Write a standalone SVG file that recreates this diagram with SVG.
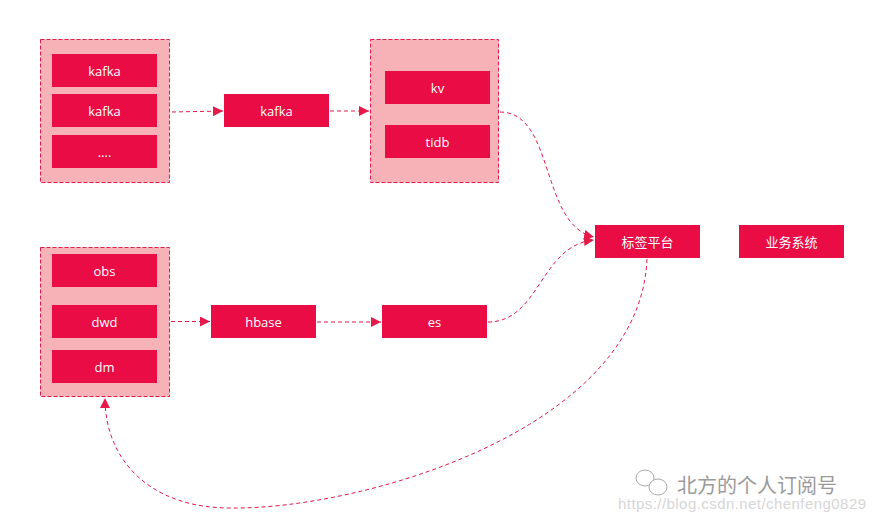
<svg xmlns="http://www.w3.org/2000/svg" width="874" height="523" viewBox="0 0 874 523">
<style>
.grp{fill:#F6B2B7;stroke:#E5194A;stroke-width:1;stroke-dasharray:4 2}
.box{fill:#E90C45}
.lbl{fill:#ffffff;font-family:"Open Sans","Liberation Sans","Noto Sans CJK SC",sans-serif;font-size:13px;text-anchor:middle;dominant-baseline:central}
.edge{fill:none;stroke:#E5194A;stroke-width:1;stroke-dasharray:4 3}
.wm{font-family:"Liberation Sans","Noto Sans CJK SC",sans-serif}
</style>
<defs>
<marker id="arr" viewBox="0 0 10 10" refX="10" refY="5" markerWidth="10" markerHeight="10" markerUnits="userSpaceOnUse" orient="auto">
<path d="M0,0 L10,5 L0,10 z" fill="#E5194A"/>
</marker>
</defs>
<rect width="874" height="523" fill="#ffffff"/>

<g id="group1">
<rect class="grp" x="40.5" y="39.5" width="129" height="143"/>
</g>
<g id="kafka1"><rect class="box" x="52" y="54" width="105" height="33"/><text class="lbl" x="104.5" y="71">kafka</text></g>
<g id="kafka2"><rect class="box" x="52" y="94" width="105" height="33"/><text class="lbl" x="104.5" y="111">kafka</text></g>
<g id="more"><rect class="box" x="52" y="135" width="105" height="33"/><text class="lbl" x="104.5" y="152">....</text></g>

<g id="kafka"><rect class="box" x="224" y="94" width="105" height="33"/><text class="lbl" x="276.5" y="111">kafka</text></g>

<g id="group2">
<rect class="grp" x="370.5" y="39.5" width="128" height="143"/>
</g>
<g id="kv"><rect class="box" x="385" y="71" width="105" height="33"/><text class="lbl" x="437.5" y="88">kv</text></g>
<g id="tidb"><rect class="box" x="385" y="125" width="105" height="33"/><text class="lbl" x="437.5" y="142">tidb</text></g>

<g id="tagplatform"><rect class="box" x="595" y="225" width="105" height="33"/><text class="lbl" x="647.5" y="242">标签平台</text></g>
<g id="bizsystem"><rect class="box" x="739" y="225" width="105" height="33"/><text class="lbl" x="791.5" y="242">业务系统</text></g>

<g id="group3">
<rect class="grp" x="40.5" y="247.5" width="129" height="149"/>
</g>
<g id="obs"><rect class="box" x="52" y="254" width="105" height="33"/><text class="lbl" x="104.5" y="271">obs</text></g>
<g id="dwd"><rect class="box" x="52" y="305" width="105" height="33"/><text class="lbl" x="104.5" y="322">dwd</text></g>
<g id="dm"><rect class="box" x="52" y="350" width="105" height="33"/><text class="lbl" x="104.5" y="367">dm</text></g>

<g id="hbase"><rect class="box" x="211" y="305" width="105" height="33"/><text class="lbl" x="263.5" y="322">hbase</text></g>
<g id="es"><rect class="box" x="382" y="305" width="105" height="33"/><text class="lbl" x="434.5" y="322">es</text></g>

<g id="connectors">
<path class="edge" d="M172,112 L223,111" marker-end="url(#arr)"/>
<path class="edge" d="M330,111 L369,111" marker-end="url(#arr)"/>
<path class="edge" d="M500,112 C555,112 540,225 594,237" marker-end="url(#arr)"/>
<path class="edge" d="M488,322 C540,322 540,245 594,240" marker-end="url(#arr)"/>
<path class="edge" d="M171,321.5 L210,321.5" marker-end="url(#arr)"/>
<path class="edge" d="M317,322 L381,322" marker-end="url(#arr)"/>
<path class="edge" d="M647,259 C640,430 360,510 230,508 C150,508 105,460 105,398" marker-end="url(#arr)"/>
</g>

<g id="watermark">
<ellipse cx="645" cy="478" rx="9" ry="8" fill="none" stroke="#aaaaaa" stroke-width="1"/>
<ellipse cx="658" cy="487" rx="9" ry="8" fill="#ffffff" stroke="#aaaaaa" stroke-width="1"/>
<text class="wm" x="677" y="493" font-size="20" fill="#9a9a9a">北方的个人订阅号</text>
<text class="wm" x="618" y="509" font-size="15" fill="#d6d6d6" textLength="248">https://blog.csdn.net/chenfeng0829</text>
</g>
</svg>
